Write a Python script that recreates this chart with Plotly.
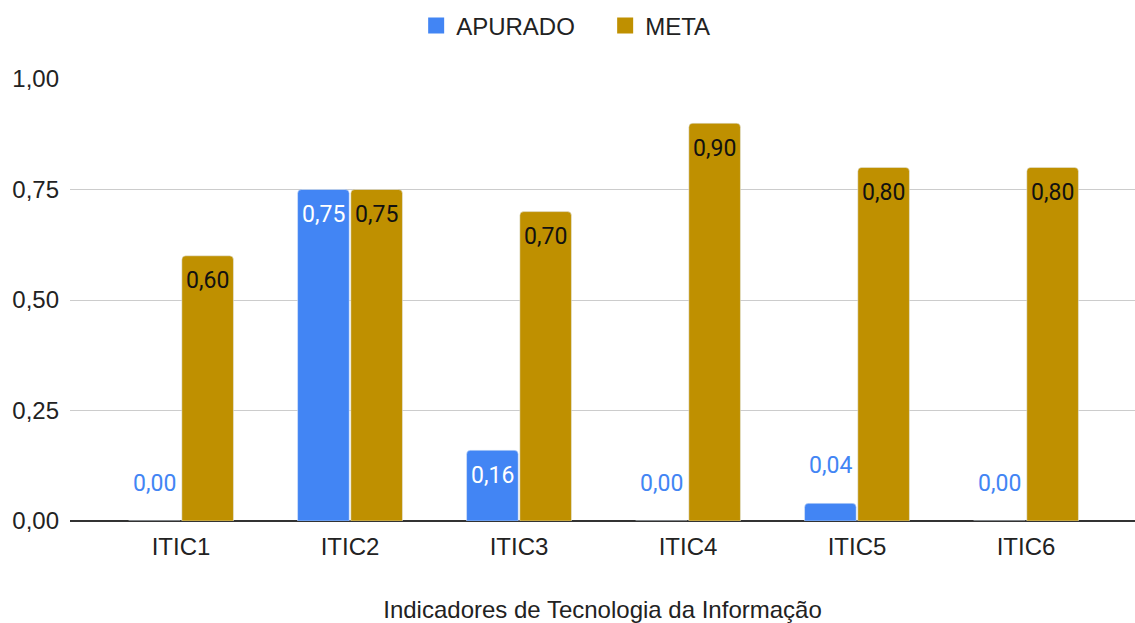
import plotly.graph_objects as go

categories = ["ITIC1", "ITIC2", "ITIC3", "ITIC4", "ITIC5", "ITIC6"]
apurado = [0.00, 0.75, 0.16, 0.00, 0.04, 0.00]
meta = [0.60, 0.75, 0.70, 0.90, 0.80, 0.80]
y_ticks = [0, 0.25, 0.5, 0.75, 1.0]
x_title = "Indicadores de Tecnologia da Informação"

BLUE = "#4285F4"
GOLD = "#BF9000"
BARGAP = 0.37
TXT = "#222222"
SANS = "Liberation Sans, Arial"

def fmt(v):
    return f"{v:.2f}".replace(".", ",")

inside_threshold = 0.1

fig = go.Figure()
fig.add_trace(go.Bar(name="APURADO", x=categories, y=apurado, marker_color=BLUE,
                     showlegend=False, cliponaxis=False))
fig.add_trace(go.Bar(name="META", x=categories, y=meta, marker_color=GOLD,
                     showlegend=False, cliponaxis=False))
# legend entries with larger square swatches
for name, col in [("APURADO", BLUE), ("META", GOLD)]:
    fig.add_trace(go.Scatter(x=[None], y=[None], mode="markers", name=name,
                             marker=dict(symbol="square", size=22, color=col)))

offset = (1 - BARGAP) / 4
for i, v in enumerate(apurado):
    if v >= inside_threshold:
        fig.add_annotation(x=i - offset, y=v, text=fmt(v), showarrow=False,
                           yshift=-25, font=dict(family="Roboto", size=23, color="white"))
    else:
        fig.add_annotation(x=i - offset, y=v, text=fmt(v), showarrow=False,
                           yshift=38, font=dict(family="Roboto", size=23, color=BLUE))
for i, v in enumerate(meta):
    fig.add_annotation(x=i + offset, y=v, text=fmt(v), showarrow=False,
                       yshift=-25, font=dict(family="Roboto", size=23, color="#111111"))

fig.update_layout(
    width=1135, height=623,
    margin=dict(l=70, r=0, t=79, b=102),
    plot_bgcolor="white", paper_bgcolor="white",
    barmode="group", bargap=BARGAP, bargroupgap=0.03,
    barcornerradius=4,
    font=dict(family=SANS, size=24, color=TXT),
    showlegend=True,
    legend=dict(orientation="h", x=0.5025, xanchor="center", y=1.12, yanchor="middle",
                font=dict(family=SANS, size=24, color=TXT),
                itemsizing="trace", traceorder="normal", entrywidth=144),
)
fig.update_xaxes(
    range=[-0.657, 5.645], showgrid=False, showline=False, ticks="", automargin=False,
    ticklabelstandoff=9,
    tickfont=dict(family=SANS, size=24, color=TXT),
    title=dict(text=x_title, standoff=43, font=dict(family=SANS, size=24, color=TXT)),
)
fig.update_yaxes(
    range=[0, 1.0], tickvals=y_ticks, ticktext=[fmt(v) for v in y_ticks],
    showgrid=True, gridcolor="#cccccc", gridwidth=1, automargin=False,
    zeroline=True, zerolinecolor="#333333", zerolinewidth=2,
    ticks="", ticklabelstandoff=10,
    tickfont=dict(family=SANS, size=24, color=TXT),
)

fig.write_html("out.html", config={"displayModeBar": False},
               post_script="document.body.style.margin='0';document.body.style.overflow='hidden';")
